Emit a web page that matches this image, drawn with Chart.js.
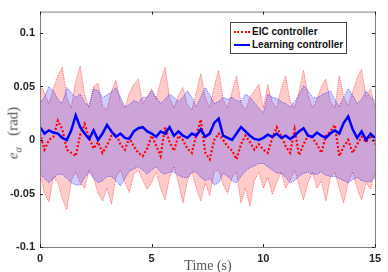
<!DOCTYPE html>
<html>
<head>
<meta charset="utf-8">
<script src="https://cdn.jsdelivr.net/npm/chart.js@4/dist/chart.umd.min.js"></script>
<style>
  body { margin: 0; background: #fff; }
  #wrap { position: relative; width: 388px; height: 272px; }
  .ttl { position: absolute; font-family: "Liberation Serif", "DejaVu Serif", serif; font-size: 14px; color: #555; white-space: nowrap; }
  #ylab { left: 14px; top: 133px; font-size: 15px; transform: translate(-50%, -50%) rotate(-90deg); }
  #xlab { left: 208px; top: 266px; transform: translate(-50%, -50%); }
  #legend { position: absolute; left: 230px; top: 22px; width: 115px; height: 30px; border: 1px solid #444;
            background: #fff; font: bold 10px "Liberation Sans", Arial, sans-serif; color: #111; }
  .row { position: absolute; left: 3px; height: 14px; line-height: 14px; white-space: nowrap; }
  .row span { display: inline-block; width: 16px; vertical-align: middle; margin-right: 2px; }
</style>
</head>
<body>
<div id="wrap">
  <canvas id="chart" width="388" height="272"></canvas>
  <div id="ylab" class="ttl"><i>e</i><sub style="font-size:10px;font-style:italic">α</sub>&nbsp;&nbsp;&nbsp;(rad)</div>
  <div id="xlab" class="ttl">Time (s)</div>
  <div id="legend">
    <div class="row" style="top:2px"><span style="border-top:2px dotted #ff0000"></span>EIC controller</div>
    <div class="row" style="top:15px"><span style="border-top:2px solid #0000ff"></span>Learning controller</div>
  </div>
</div>
<script>
// sampling grid, 0 to 15 s every 0.2 s
const time = Array.from({ length: 76 }, (_, i) => +(i * 0.2).toFixed(1));

const xTicks = [0, 5, 10, 15];
const yTicks = [-0.1, -0.05, 0, 0.05, 0.1];

// EIC controller: mean and band
const eicMean = [0.006, -0.009, 0.000, 0.003, 0.018, 0.010, -0.009, -0.012, -0.015, 0.005, 0.015, 0.002, -0.008, -0.002, -0.012, -0.005, 0.004, 0.006, -0.004, -0.009, 0.002, -0.006, -0.012, -0.015, -0.008, 0.004,
  -0.005, -0.015, 0.012, -0.002, -0.010, 0.004, 0.000, -0.008, -0.012, 0.005, 0.019, -0.012, -0.018, 0.000, 0.006, 0.000, -0.006, -0.010, -0.018, -0.004, 0.004, -0.002, -0.009, -0.004, -0.009,
  -0.012, 0.002, 0.012, 0.004, -0.006, -0.012, 0.010, -0.014, -0.004, 0.004, 0.002, -0.004, -0.012, 0.004, 0.008, 0.014, -0.015, -0.006, 0.000, -0.012, -0.004, 0.003, -0.002, 0.004, -0.004];
const eicUpper = [0.052, 0.044, 0.034, 0.048, 0.060, 0.068, 0.040, 0.030, 0.055, 0.069, 0.042, 0.030, 0.050, 0.053, 0.032, 0.028, 0.046, 0.056, 0.036, 0.030, 0.044, 0.052, 0.057, 0.034, 0.040, 0.048,
  0.038, 0.055, 0.068, 0.040, 0.030, 0.042, 0.049, 0.033, 0.028, 0.045, 0.062, 0.040, 0.030, 0.050, 0.065, 0.038, 0.030, 0.045, 0.060, 0.035, 0.028, 0.040, 0.046, 0.052, 0.030,
  0.052, 0.035, 0.030, 0.048, 0.060, 0.036, 0.030, 0.045, 0.065, 0.042, 0.030, 0.038, 0.050, 0.057, 0.036, 0.030, 0.060, 0.040, 0.032, 0.045, 0.058, 0.066, 0.040, 0.048, 0.030];
const eicLower = [-0.030, -0.050, -0.058, -0.035, -0.040, -0.055, -0.065, -0.038, -0.030, -0.040, -0.045, -0.028, -0.035, -0.050, -0.057, -0.045, -0.060, -0.035, -0.028, -0.040, -0.049, -0.032, -0.028, -0.038, -0.046, -0.040,
  -0.030, -0.045, -0.056, -0.035, -0.025, -0.040, -0.059, -0.038, -0.030, -0.045, -0.057, -0.040, -0.052, -0.030, -0.028, -0.042, -0.050, -0.035, -0.030, -0.059, -0.045, -0.062, -0.038, -0.030, -0.045,
  -0.035, -0.051, -0.040, -0.030, -0.045, -0.038, -0.028, -0.042, -0.056, -0.040, -0.030, -0.045, -0.038, -0.057, -0.035, -0.030, -0.045, -0.059, -0.040, -0.030, -0.045, -0.056, -0.040, -0.046, -0.030];

// Learning controller: mean and band
const learnMean = [0.012, 0.006, 0.009, 0.007, 0.006, 0.002, 0.000, 0.009, 0.023, 0.012, 0.006, 0.001, 0.009, 0.000, 0.006, 0.014, 0.008, 0.003, 0.006, 0.002, 0.001, 0.008, 0.011, 0.012, 0.008, 0.006,
  0.003, 0.008, 0.006, 0.012, 0.004, 0.008, 0.004, 0.002, 0.006, 0.004, 0.010, 0.003, 0.006, 0.016, 0.020, 0.004, 0.002, 0.000, 0.006, 0.012, 0.008, 0.004, 0.001, 0.000, 0.002,
  0.005, 0.003, 0.006, 0.002, 0.004, 0.001, 0.004, 0.008, 0.011, 0.004, 0.003, 0.007, 0.004, 0.002, 0.006, 0.009, 0.006, 0.016, 0.022, 0.010, 0.002, 0.008, 0.000, 0.006, 0.002];
const learnUpper = [0.034, 0.040, 0.050, 0.046, 0.038, 0.034, 0.049, 0.044, 0.040, 0.043, 0.035, 0.032, 0.048, 0.046, 0.040, 0.042, 0.045, 0.049, 0.040, 0.031, 0.033, 0.037, 0.035, 0.040, 0.040, 0.046,
  0.040, 0.034, 0.038, 0.043, 0.040, 0.036, 0.040, 0.046, 0.040, 0.031, 0.040, 0.049, 0.042, 0.034, 0.036, 0.040, 0.038, 0.040, 0.037, 0.036, 0.043, 0.040, 0.035, 0.030, 0.025,
  0.043, 0.040, 0.039, 0.036, 0.034, 0.031, 0.036, 0.042, 0.051, 0.046, 0.040, 0.039, 0.042, 0.044, 0.046, 0.038, 0.031, 0.040, 0.048, 0.042, 0.034, 0.038, 0.046, 0.040, 0.037];
const learnLower = [-0.031, -0.036, -0.040, -0.036, -0.032, -0.032, -0.036, -0.040, -0.042, -0.042, -0.035, -0.030, -0.036, -0.040, -0.038, -0.034, -0.034, -0.038, -0.043, -0.036, -0.029, -0.027, -0.025, -0.028, -0.032, -0.028,
  -0.025, -0.030, -0.032, -0.030, -0.030, -0.033, -0.035, -0.035, -0.030, -0.030, -0.035, -0.038, -0.036, -0.042, -0.040, -0.031, -0.034, -0.038, -0.040, -0.034, -0.029, -0.026, -0.024, -0.022, -0.022,
  -0.025, -0.028, -0.031, -0.031, -0.035, -0.040, -0.038, -0.034, -0.031, -0.030, -0.032, -0.032, -0.030, -0.033, -0.034, -0.034, -0.036, -0.038, -0.040, -0.037, -0.035, -0.038, -0.039, -0.039, -0.035];

function pts(ys) {
    return ys.map((y, i) => ({ x: time[i], y: y }));
}

// MATLAB-like box with inward ticks
const boxPlugin = {
    id: 'box',
    afterDraw(chart) {
        const { ctx, chartArea: a, scales } = chart;
        ctx.save();
        ctx.strokeStyle = '#7f7f7f';
        ctx.lineWidth = 1;
        ctx.strokeRect(a.left + 0.5, a.top + 0.5, a.right - a.left, a.bottom - a.top);
        ctx.strokeStyle = '#262626';
        ctx.beginPath();
        xTicks.forEach(v => {
            const px = Math.round(scales.x.getPixelForValue(v)) + 0.5;
            ctx.moveTo(px, a.bottom); ctx.lineTo(px, a.bottom - 3);
            ctx.moveTo(px, a.top); ctx.lineTo(px, a.top + 3);
        });
        yTicks.forEach(v => {
            const py = Math.round(scales.y.getPixelForValue(v)) + 0.5;
            ctx.moveTo(a.left, py); ctx.lineTo(a.left + 3, py);
            ctx.moveTo(a.right, py); ctx.lineTo(a.right - 3, py);
        });
        ctx.stroke();
        ctx.restore();
    }
};

const tickFont = { family: '"Liberation Sans", Arial, sans-serif', size: 11, weight: 'bold' };

new Chart(document.getElementById('chart').getContext('2d'), {
    type: 'line',
    data: {
        datasets: [
            { label: 'Learning controller', data: pts(learnMean), borderColor: '#0000ff', borderWidth: 2.5, fill: false },
            { label: 'EIC controller', data: pts(eicMean), borderColor: '#ff0000', borderWidth: 2.2, borderDash: [2, 2], fill: false },
            { label: 'learnUpper', data: pts(learnUpper), borderColor: 'rgba(0,0,255,0.55)', borderWidth: 1, borderDash: [1, 1],
              fill: { target: 3 }, backgroundColor: 'rgba(0,0,255,0.2)' },
            { label: 'learnLower', data: pts(learnLower), borderColor: 'rgba(0,0,255,0.55)', borderWidth: 1, borderDash: [1, 1], fill: false },
            { label: 'eicUpper', data: pts(eicUpper), borderColor: 'rgba(255,0,0,0.55)', borderWidth: 1, borderDash: [1, 1],
              fill: { target: 5 }, backgroundColor: 'rgba(255,0,0,0.2)' },
            { label: 'eicLower', data: pts(eicLower), borderColor: 'rgba(255,0,0,0.55)', borderWidth: 1, borderDash: [1, 1], fill: false }
        ]
    },
    options: {
        responsive: false,
        animation: false,
        layout: { padding: { top: 9, right: 13, left: 0, bottom: 0 } },
        elements: { point: { radius: 0 }, line: { tension: 0 } },
        plugins: { legend: { display: false }, tooltip: { enabled: false } },
        scales: {
            x: {
                type: 'linear', min: 0, max: 15,
                grid: { display: false, drawTicks: false },
                border: { display: false },
                afterBuildTicks: s => { s.ticks = xTicks.map(v => ({ value: v })); },
                afterFit: s => { s.height = 25; },
                ticks: { font: tickFont, color: '#262626', padding: 5, maxRotation: 0 }
            },
            y: {
                min: -0.1, max: 0.12,
                grid: { display: false, drawTicks: false },
                border: { display: false },
                afterBuildTicks: s => { s.ticks = yTicks.map(v => ({ value: v })); },
                afterFit: s => { s.width = 40; },
                ticks: { font: tickFont, color: '#262626', padding: 5, callback: v => String(v) }
            }
        }
    },
    plugins: [boxPlugin]
});
</script>
</body>
</html>
